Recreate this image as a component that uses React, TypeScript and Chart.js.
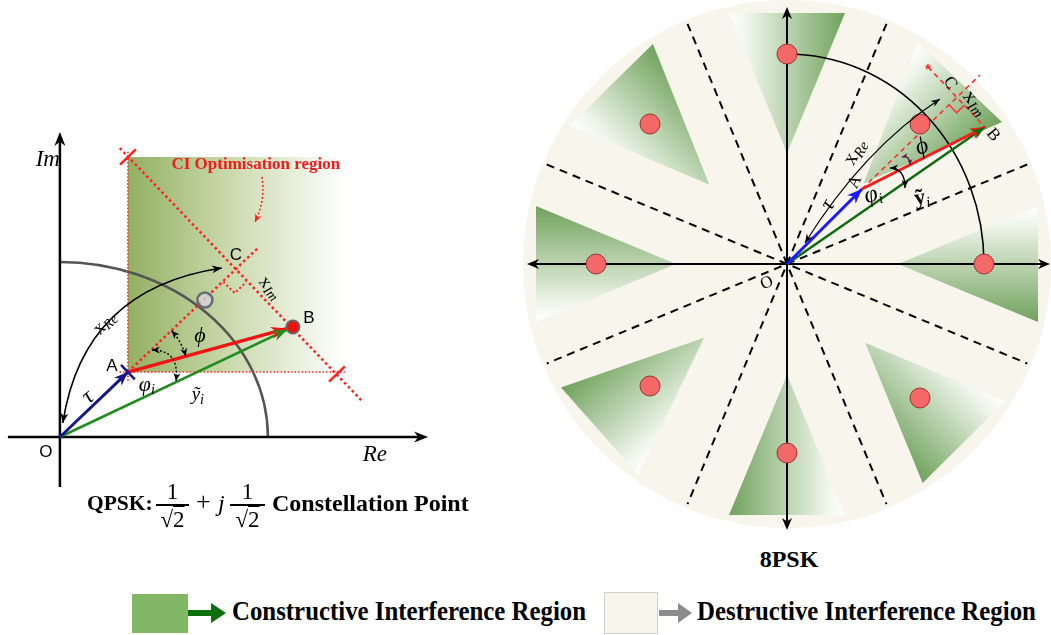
import React, { useEffect, useRef } from "react";
import { Chart, registerables } from "chart.js";

Chart.register(...registerables);

/* ---------------- QPSK panel: positions in the (Re, Im) plane ---------------- */
// vector end points: O, A, B, C
const qpskRe = [0, 0.327, 1.12, 0.841];
const qpskIm = [0, 0.371, 0.629, 0.949];
// nominal symbol 1/√2 + j/√2 sitting on the unit arc
const qpskSymbolRe = [0.697];
const qpskSymbolIm = [0.783];
// CI optimisation region extent
const ciRegionRe = [0.327, 1.37];
const ciRegionIm = [0.371, 1.6];
// dotted boundary through C and B, with its two end ticks
const ciBoundaryRe = [0.288, 1.457];
const ciBoundaryIm = [1.651, 0.2];
const ciTickRe = [0.327, 1.332];
const ciTickIm = [1.6, 0.36];
// far end of the dotted A→C direction
const acEndRe = [0.952];
const acEndIm = [1.08];
// x_Re double arrow (start, control, end)
const xReCurveRe = [0.014, 0.113, 0.779];
const xReCurveIm = [0.08, 0.849, 0.966];
// φ_i angle mark (start, control, end)
const phiICurveRe = [0.442, 0.577, 0.558];
const phiICurveIm = [0.497, 0.497, 0.32];
// pointer from the region caption into the region
const ciPointerRe = [0.971, 0.99, 0.9375];
const ciPointerIm = [1.486, 1.354, 1.229];
// axis extents
const qpskAxisRe = [-0.25, 1.77];
const qpskAxisIm = [-0.286, 1.743];

/* ---------------- 8PSK panel ---------------- */
const psk8Re = [0.985, 0.665, 0, -0.685, -0.955, -0.685, 0, 0.665];
const psk8Im = [0, 0.7, 1.05, 0.7, 0, -0.61, -0.945, -0.67];
// vector end points: O, A, B, C
const psk8VecRe = [0, 0.375, 0.99, 0.85];
const psk8VecIm = [0, 0.375, 0.685, 0.835];
// decision boundaries (degrees), each drawn through the origin
const boundaryDeg = [22.5, 67.5, 112.5, 157.5];
// red dashed construction lines
const aExtEndRe = [0.965];
const aExtEndIm = [0.945];
const perpStartRe = [0.705];
const perpStartIm = [0.985];
// x_Re double arrow (start, control, end)
const xRe8Re = [0.09, 0.3825, 0.765];
const xRe8Im = [0.105, 0.575, 0.825];
// angle marks near A
const phiI8Re = [0.515, 0.59, 0.59];
const phiI8Im = [0.48, 0.48, 0.38];
const phi8Re = [0.575, 0.615, 0.615];
const phi8Im = [0.535, 0.545, 0.495];
const psk8DiscRadius = 1.32;
const psk8BoundaryLen = 1.3;
const psk8AxisRe = [-1.3, 1.315];
const psk8AxisIm = [-1.33, 1.285];
// CI wedge around every symbol: apex distance, base distance, half base width
const wedgeApex = 0.555;
const wedgeBase = 1.255;
const wedgeHalf = 0.29;

const SERIF = '"Liberation Serif", "DejaVu Serif", serif';
const SANS = '"Liberation Sans", "DejaVu Sans", sans-serif';

type Pt = [number, number];
type Run = { t: string; f: string; dy?: number };
type Label = { at: Pt; runs: Run[]; rot?: number; color?: string };

function toPx(chart: any, x: number, y: number): Pt {
  return [chart.scales.x.getPixelForValue(x), chart.scales.y.getPixelForValue(y)];
}

function arrowHead(ctx: CanvasRenderingContext2D, from: Pt, to: Pt, len: number, wid: number, color: string) {
  const a = Math.atan2(to[1] - from[1], to[0] - from[0]);
  ctx.save();
  ctx.translate(to[0], to[1]);
  ctx.rotate(a);
  ctx.beginPath();
  ctx.moveTo(0, 0);
  ctx.lineTo(-len, wid / 2);
  ctx.lineTo(-len * 0.7, 0);
  ctx.lineTo(-len, -wid / 2);
  ctx.closePath();
  ctx.fillStyle = color;
  ctx.fill();
  ctx.restore();
}

function seg(ctx: CanvasRenderingContext2D, a: Pt, b: Pt, color: string, width: number, dash: number[] = [], cap: CanvasLineCap = "butt") {
  ctx.save();
  ctx.beginPath();
  ctx.moveTo(a[0], a[1]);
  ctx.lineTo(b[0], b[1]);
  ctx.strokeStyle = color;
  ctx.lineWidth = width;
  ctx.lineCap = cap;
  ctx.setLineDash(dash);
  ctx.stroke();
  ctx.restore();
}

function quadArrow(
  ctx: CanvasRenderingContext2D,
  p0: Pt, c: Pt, p1: Pt,
  color: string, width: number, dash: number[],
  headStart: boolean, headEnd: boolean, hl: number, hw: number
) {
  ctx.save();
  ctx.beginPath();
  ctx.moveTo(p0[0], p0[1]);
  ctx.quadraticCurveTo(c[0], c[1], p1[0], p1[1]);
  ctx.strokeStyle = color;
  ctx.lineWidth = width;
  ctx.setLineDash(dash);
  ctx.stroke();
  ctx.restore();
  if (headStart) arrowHead(ctx, c, p0, hl, hw, color);
  if (headEnd) arrowHead(ctx, c, p1, hl, hw, color);
}

function drawRuns(ctx: CanvasRenderingContext2D, p: Pt, list: Run[], rot = 0, color = "#000") {
  ctx.save();
  ctx.translate(p[0], p[1]);
  ctx.rotate((rot * Math.PI) / 180);
  ctx.fillStyle = color;
  ctx.textBaseline = "middle";
  ctx.textAlign = "left";
  let w = 0;
  for (const r of list) {
    ctx.font = r.f;
    w += ctx.measureText(r.t).width;
  }
  let x = -w / 2;
  for (const r of list) {
    ctx.font = r.f;
    ctx.fillText(r.t, x, r.dy || 0);
    x += ctx.measureText(r.t).width;
  }
  ctx.restore();
}

function norm(v: Pt): Pt {
  const l = Math.hypot(v[0], v[1]) || 1;
  return [v[0] / l, v[1] / l];
}

function rightAngle(ctx: CanvasRenderingContext2D, c: Pt, toA: Pt, toB: Pt, s: number, color: string, width: number, dash: number[]) {
  const u = norm([toA[0] - c[0], toA[1] - c[1]]);
  const v = norm([toB[0] - c[0], toB[1] - c[1]]);
  ctx.save();
  ctx.beginPath();
  ctx.moveTo(c[0] + u[0] * s, c[1] + u[1] * s);
  ctx.lineTo(c[0] + (u[0] + v[0]) * s, c[1] + (u[1] + v[1]) * s);
  ctx.lineTo(c[0] + v[0] * s, c[1] + v[1] * s);
  ctx.strokeStyle = color;
  ctx.lineWidth = width;
  ctx.setLineDash(dash);
  ctx.stroke();
  ctx.restore();
}

/* ---------------- text annotations ---------------- */
const qpskLabels: Label[] = [
  { at: [-0.058, 1.583], runs: [{ t: "Im", f: `italic 23px ${SERIF}` }] },
  { at: [1.514, -0.103], runs: [{ t: "Re", f: `italic 23px ${SERIF}` }] },
  { at: [-0.067, -0.086], runs: [{ t: "O", f: `17px ${SANS}` }] },
  { at: [0.25, 0.406], runs: [{ t: "A", f: `17px ${SANS}` }] },
  { at: [1.197, 0.68], runs: [{ t: "B", f: `17px ${SANS}` }] },
  { at: [0.846, 1.04], runs: [{ t: "C", f: `17px ${SANS}` }] },
  { at: [0.135, 0.229], runs: [{ t: "τ", f: `italic 23px ${SERIF}` }], rot: -40 },
  { at: [0.216, 0.651], runs: [{ t: "x", f: `19px ${SERIF}` }, { t: "Re", f: `italic 14px ${SERIF}`, dy: 4 }], rot: -45 },
  { at: [0.418, 0.297], runs: [{ t: "φ", f: `italic 22px ${SERIF}` }, { t: "i", f: `italic 14px ${SERIF}`, dy: 5 }] },
  { at: [0.663, 0.24], runs: [{ t: "ỹ", f: `italic 19px ${SERIF}` }, { t: "i", f: `italic 14px ${SERIF}`, dy: 5 }] },
  { at: [0.673, 0.577], runs: [{ t: "ϕ", f: `italic 22px ${SERIF}` }] },
  { at: [1.01, 0.851], runs: [{ t: "x", f: `19px ${SERIF}` }, { t: "Im", f: `italic 14px ${SERIF}`, dy: 4 }], rot: 50 },
  { at: [0.942, 1.554], runs: [{ t: "CI Optimisation region", f: `bold 17px ${SERIF}` }], color: "#ee1c1c" },
];

const psk8Labels: Label[] = [
  { at: [-0.1, -0.095], runs: [{ t: "O", f: `17px ${SERIF}` }], rot: -25 },
  { at: [0.34, 0.41], runs: [{ t: "A", f: `17px ${SERIF}` }], rot: -65 },
  { at: [1.03, 0.645], runs: [{ t: "B", f: `17px ${SERIF}` }], rot: 50 },
  { at: [0.815, 0.905], runs: [{ t: "C", f: `17px ${SERIF}` }], rot: 60 },
  { at: [0.94, 0.805], runs: [{ t: "x", f: `21px ${SERIF}` }, { t: "Im", f: `italic 15px ${SERIF}`, dy: 5 }], rot: 50 },
  { at: [0.34, 0.56], runs: [{ t: "x", f: `21px ${SERIF}` }, { t: "Re", f: `italic 15px ${SERIF}`, dy: 5 }], rot: -60 },
  { at: [0.205, 0.295], runs: [{ t: "τ", f: `italic 22px ${SERIF}` }], rot: -60 },
  { at: [0.43, 0.345], runs: [{ t: "φ", f: `italic 24px ${SERIF}` }, { t: "i", f: `italic 15px ${SERIF}`, dy: 6 }], rot: -15 },
  { at: [0.675, 0.33], runs: [{ t: "ỹ", f: `bold 22px ${SERIF}` }, { t: "i", f: `italic 15px ${SERIF}`, dy: 6 }], rot: -10 },
  { at: [0.675, 0.585], runs: [{ t: "ϕ", f: `italic 24px ${SERIF}` }], rot: -20 },
];

/* ---------------- QPSK drawing ---------------- */
const qpskDecor = {
  id: "qpskDecor",
  beforeDatasetsDraw(chart: any) {
    const ctx: CanvasRenderingContext2D = chart.ctx;
    const P = (x: number, y: number) => toPx(chart, x, y);
    // region shading
    const [x0, y0] = P(ciRegionRe[0], ciRegionIm[1]);
    const [x1, y1] = P(ciRegionRe[1], ciRegionIm[0]);
    const g = ctx.createLinearGradient(x0, 0, x1, 0);
    g.addColorStop(0, "rgb(146,176,98)");
    g.addColorStop(0.45, "rgb(200,216,170)");
    g.addColorStop(1, "rgb(255,255,255)");
    ctx.fillStyle = g;
    ctx.fillRect(x0, y0, x1 - x0, y1 - y0);

    // unit arc
    const o = P(0, 0);
    const rx = P(1, 0)[0] - o[0];
    const ry = o[1] - P(0, 1)[1];
    ctx.save();
    ctx.beginPath();
    ctx.ellipse(o[0], o[1], rx, ry, 0, -Math.PI / 2, 0);
    ctx.strokeStyle = "#555";
    ctx.lineWidth = 2.5;
    ctx.stroke();
    ctx.restore();

    // axes
    const reA = P(qpskAxisRe[0], 0), reB = P(qpskAxisRe[1], 0);
    const imA = P(0, qpskAxisIm[0]), imB = P(0, qpskAxisIm[1]);
    seg(ctx, reA, [reB[0] - 6, reB[1]], "#000", 2.5);
    arrowHead(ctx, reA, reB, 14, 11, "#000");
    seg(ctx, imA, [imB[0], imB[1] + 6], "#000", 2.5);
    arrowHead(ctx, imA, imB, 14, 11, "#000");

    // dotted construction lines
    const red = "#ff2020";
    const dots = [2.5, 3];
    const A = P(qpskRe[1], qpskIm[1]);
    seg(ctx, P(ciRegionRe[0], ciRegionIm[0] - 0.05), P(ciRegionRe[0], ciRegionIm[1] + 0.04), red, 1.6, [1.5, 2]);
    seg(ctx, P(ciRegionRe[0] - 0.04, ciRegionIm[0]), P(ciRegionRe[1], ciRegionIm[0]), red, 1.6, [1.5, 2]);
    const b0 = P(ciBoundaryRe[0], ciBoundaryIm[0]);
    const b1 = P(ciBoundaryRe[1], ciBoundaryIm[1]);
    seg(ctx, b0, b1, red, 2.5, dots);
    seg(ctx, A, P(acEndRe[0], acEndIm[0]), red, 2.5, dots);
    // ticks at both ends of the boundary
    const d = norm([b1[0] - b0[0], b1[1] - b0[1]]);
    const n: Pt = [d[1], -d[0]];
    for (let i = 0; i < ciTickRe.length; i++) {
      const t = P(ciTickRe[i], ciTickIm[i]);
      seg(ctx, [t[0] - n[0] * 11, t[1] - n[1] * 11], [t[0] + n[0] * 11, t[1] + n[1] * 11], red, 2.5);
    }
    // right angle at C
    const C = P(qpskRe[3], qpskIm[3]);
    const B = P(qpskRe[2], qpskIm[2]);
    rightAngle(ctx, C, A, B, 16, red, 2, [2, 2.5]);
  },
  afterDatasetsDraw(chart: any) {
    const ctx: CanvasRenderingContext2D = chart.ctx;
    const P = (x: number, y: number) => toPx(chart, x, y);
    const meta = (i: number) => chart.getDatasetMeta(i).data;
    // arrowheads on the vectors (datasets 2: A→B, 3: O→A, 4: O→B)
    const ab = meta(2), oa = meta(3), ob = meta(4);
    const headTo = (el: any[], back: number, color: string, len: number, wid: number) => {
      const a: Pt = [el[0].x, el[0].y];
      const b: Pt = [el[1].x, el[1].y];
      const u = norm([b[0] - a[0], b[1] - a[1]]);
      arrowHead(ctx, a, [b[0] - u[0] * back, b[1] - u[1] * back], len, wid, color);
    };
    headTo(oa, 0, "#16168c", 14, 11);
    headTo(ab, 6, "#f01414", 16, 12);
    headTo(ob, 6, "#1e8c1e", 15, 11);
    // blue tick at A
    const a0: Pt = [oa[0].x, oa[0].y], a1: Pt = [oa[1].x, oa[1].y];
    const u = norm([a1[0] - a0[0], a1[1] - a0[1]]);
    const pn: Pt = [-u[1], u[0]];
    seg(ctx, [a1[0] - pn[0] * 10, a1[1] - pn[1] * 10], [a1[0] + pn[0] * 10, a1[1] + pn[1] * 10], "#16168c", 2.5);

    // x_Re double arrow
    quadArrow(ctx, P(xReCurveRe[0], xReCurveIm[0]), P(xReCurveRe[1], xReCurveIm[1]), P(xReCurveRe[2], xReCurveIm[2]), "#000", 1.6, [], true, true, 10, 8);
    // φ_i mark
    quadArrow(ctx, P(phiICurveRe[0], phiICurveIm[0]), P(phiICurveRe[1], phiICurveIm[1]), P(phiICurveRe[2], phiICurveIm[2]), "#000", 1.4, [2, 2], true, true, 8, 7);
    // ϕ mark: arc around A between A→C and A→B
    const A = P(qpskRe[1], qpskIm[1]);
    const B = P(qpskRe[2], qpskIm[2]);
    const C = P(qpskRe[3], qpskIm[3]);
    const angC = Math.atan2(C[1] - A[1], C[0] - A[0]);
    const angB = Math.atan2(B[1] - A[1], B[0] - A[0]);
    const r = 60;
    ctx.save();
    ctx.beginPath();
    ctx.arc(A[0], A[1], r, angC, angB);
    ctx.strokeStyle = "#000";
    ctx.lineWidth = 1.4;
    ctx.setLineDash([2, 2]);
    ctx.stroke();
    ctx.restore();
    const endB: Pt = [A[0] + r * Math.cos(angB), A[1] + r * Math.sin(angB)];
    const endC: Pt = [A[0] + r * Math.cos(angC), A[1] + r * Math.sin(angC)];
    arrowHead(ctx, [endB[0] + 8 * Math.sin(angB), endB[1] - 8 * Math.cos(angB)], endB, 8, 7, "#000");
    arrowHead(ctx, [endC[0] - 8 * Math.sin(angC), endC[1] + 8 * Math.cos(angC)], endC, 8, 7, "#000");

    // region caption pointer
    quadArrow(ctx, P(ciPointerRe[0], ciPointerIm[0]), P(ciPointerRe[1], ciPointerIm[1]), P(ciPointerRe[2], ciPointerIm[2]), "#ff2020", 1.5, [2, 2], false, true, 8, 7);

    for (const l of qpskLabels) drawRuns(ctx, P(l.at[0], l.at[1]), l.runs, l.rot || 0, l.color || "#000");
  },
};

/* ---------------- 8PSK drawing ---------------- */
const psk8Decor = {
  id: "psk8Decor",
  beforeDatasetsDraw(chart: any) {
    const ctx: CanvasRenderingContext2D = chart.ctx;
    const P = (x: number, y: number) => toPx(chart, x, y);
    const o = P(0, 0);
    const unit = P(1, 0)[0] - o[0];

    // destructive background disc
    ctx.save();
    ctx.beginPath();
    ctx.arc(o[0], o[1], psk8DiscRadius * unit, 0, Math.PI * 2);
    ctx.fillStyle = "#f7f5ec";
    ctx.fill();
    ctx.restore();

    // constructive wedges, one per symbol
    for (let i = 0; i < psk8Re.length; i++) {
      const ang = Math.atan2(psk8Im[i], psk8Re[i]);
      const dir: Pt = [Math.cos(ang), Math.sin(ang)];
      const perp: Pt = [-Math.sin(ang), Math.cos(ang)];
      const apex = P(dir[0] * wedgeApex, dir[1] * wedgeApex);
      const ccw = P(dir[0] * wedgeBase + perp[0] * wedgeHalf, dir[1] * wedgeBase + perp[1] * wedgeHalf);
      const cw = P(dir[0] * wedgeBase - perp[0] * wedgeHalf, dir[1] * wedgeBase - perp[1] * wedgeHalf);
      const g = ctx.createLinearGradient(ccw[0], ccw[1], cw[0], cw[1]);
      g.addColorStop(0, "rgba(255,255,255,1)");
      g.addColorStop(0.15, "rgb(240,246,236)");
      g.addColorStop(1, "rgb(112,162,92)");
      ctx.beginPath();
      ctx.moveTo(apex[0], apex[1]);
      ctx.lineTo(ccw[0], ccw[1]);
      ctx.lineTo(cw[0], cw[1]);
      ctx.closePath();
      ctx.fillStyle = g;
      ctx.fill();
    }

    // decision boundaries
    for (const deg of boundaryDeg) {
      const a = (deg * Math.PI) / 180;
      const p = P(Math.cos(a) * psk8BoundaryLen, Math.sin(a) * psk8BoundaryLen);
      const q = P(-Math.cos(a) * psk8BoundaryLen, -Math.sin(a) * psk8BoundaryLen);
      seg(ctx, p, q, "#000", 2, [8, 6]);
    }

    // axes with arrows at both ends
    const l = P(psk8AxisRe[0], 0), rr = P(psk8AxisRe[1], 0);
    const b = P(0, psk8AxisIm[0]), t = P(0, psk8AxisIm[1]);
    seg(ctx, [l[0] + 5, l[1]], [rr[0] - 5, rr[1]], "#000", 2);
    seg(ctx, [b[0], b[1] - 5], [t[0], t[1] + 5], "#000", 2);
    arrowHead(ctx, o, l, 12, 10, "#000");
    arrowHead(ctx, o, rr, 12, 10, "#000");
    arrowHead(ctx, o, b, 12, 10, "#000");
    arrowHead(ctx, o, t, 12, 10, "#000");

    // quarter arc joining the symbols on the axes
    const rx = P(psk8Re[0], 0)[0] - o[0];
    const ry = o[1] - P(0, psk8Im[2])[1];
    ctx.save();
    ctx.beginPath();
    ctx.ellipse(o[0], o[1], rx, ry, 0, -Math.PI / 2, 0);
    ctx.strokeStyle = "#000";
    ctx.lineWidth = 1.6;
    ctx.stroke();
    ctx.restore();

    // red dashed construction
    const red = "#ff2a2a";
    const A = P(psk8VecRe[1], psk8VecIm[1]);
    const B = P(psk8VecRe[2], psk8VecIm[2]);
    const C = P(psk8VecRe[3], psk8VecIm[3]);
    const s = P(perpStartRe[0], perpStartIm[0]);
    seg(ctx, A, P(aExtEndRe[0], aExtEndIm[0]), red, 1.6, [5, 4]);
    seg(ctx, s, B, red, 1.6, [5, 4]);
    rightAngle(ctx, C, A, B, 11, red, 1.4, []);
    ctx.save();
    ctx.fillStyle = red;
    ctx.font = `bold 15px ${SANS}`;
    ctx.textAlign = "center";
    ctx.textBaseline = "middle";
    ctx.fillText("*", s[0], s[1] + 3);
    ctx.restore();
  },
  afterDatasetsDraw(chart: any) {
    const ctx: CanvasRenderingContext2D = chart.ctx;
    const P = (x: number, y: number) => toPx(chart, x, y);
    const meta = (i: number) => chart.getDatasetMeta(i).data;
    const head = (el: any[], color: string, len: number, wid: number) =>
      arrowHead(ctx, [el[0].x, el[0].y], [el[1].x, el[1].y], len, wid, color);
    head(meta(1), "#ff1a1a", 15, 12);
    head(meta(2), "#1a1aff", 15, 12);
    head(meta(3), "#0d6b0d", 14, 10);

    quadArrow(ctx, P(xRe8Re[0], xRe8Im[0]), P(xRe8Re[1], xRe8Im[1]), P(xRe8Re[2], xRe8Im[2]), "#000", 1.1, [], true, true, 9, 7);
    quadArrow(ctx, P(phiI8Re[0], phiI8Im[0]), P(phiI8Re[1], phiI8Im[1]), P(phiI8Re[2], phiI8Im[2]), "#000", 1.4, [], true, true, 8, 7);
    quadArrow(ctx, P(phi8Re[0], phi8Im[0]), P(phi8Re[1], phi8Im[1]), P(phi8Re[2], phi8Im[2]), "#5a1f4c", 1.4, [], true, true, 6, 5);

    for (const l of psk8Labels) drawRuns(ctx, P(l.at[0], l.at[1]), l.runs, l.rot || 0, l.color || "#000");
  },
};

const seg2 = (re: number[], im: number[], i: number, j: number) => [
  { x: re[i], y: im[i] },
  { x: re[j], y: im[j] },
];

function baseOptions(xr: [number, number], yr: [number, number]): any {
  return {
    animation: false,
    responsive: false,
    events: [],
    layout: { padding: 0, autoPadding: false },
    plugins: { legend: { display: false }, tooltip: { enabled: false } },
    scales: {
      x: { type: "linear", min: xr[0], max: xr[1], display: false },
      y: { type: "linear", min: yr[0], max: yr[1], display: false },
    },
  };
}

function Frac({ width }: { width: number }) {
  return (
    <div style={{ width, display: "flex", flexDirection: "column", alignItems: "center", fontWeight: "normal" }}>
      <div style={{ fontSize: 23, lineHeight: "21px" }}>1</div>
      <div style={{ height: 1.5, background: "#000", alignSelf: "stretch", margin: "2px 0" }} />
      <div style={{ fontSize: 23, lineHeight: "23px", whiteSpace: "nowrap" }}>
        √<span style={{ textDecoration: "overline" }}>2</span>
      </div>
    </div>
  );
}

export default function App() {
  const leftRef = useRef<HTMLCanvasElement>(null);
  const rightRef = useRef<HTMLCanvasElement>(null);

  useEffect(() => {
    const left = new Chart(leftRef.current as HTMLCanvasElement, {
      type: "scatter",
      data: {
        datasets: [
          {
            data: [{ x: qpskRe[2], y: qpskIm[2] }],
            pointRadius: 6.5,
            backgroundColor: "#f01010",
            borderColor: "#666",
            borderWidth: 2,
            order: 0,
            clip: false,
          },
          {
            data: [{ x: qpskSymbolRe[0], y: qpskSymbolIm[0] }],
            pointRadius: 7.5,
            backgroundColor: "rgba(214,214,224,0.75)",
            borderColor: "#6a6a72",
            borderWidth: 2.5,
            order: 1,
            clip: false,
          },
          { data: seg2(qpskRe, qpskIm, 1, 2), showLine: true, borderColor: "#f01414", borderWidth: 3.5, pointRadius: 0, order: 2, clip: false },
          { data: seg2(qpskRe, qpskIm, 0, 1), showLine: true, borderColor: "#16168c", borderWidth: 3, pointRadius: 0, order: 3, clip: false },
          { data: seg2(qpskRe, qpskIm, 0, 2), showLine: true, borderColor: "#1e8c1e", borderWidth: 2.5, pointRadius: 0, order: 4, clip: false },
        ],
      },
      options: baseOptions([-0.288, 2.212], [-0.36, 2.497]),
      plugins: [qpskDecor],
    } as any);

    const right = new Chart(rightRef.current as HTMLCanvasElement, {
      type: "scatter",
      data: {
        datasets: [
          {
            data: psk8Re.map((x, i) => ({ x, y: psk8Im[i] })),
            pointRadius: 10,
            backgroundColor: "#f46868",
            borderColor: "#9a3434",
            borderWidth: 1,
            order: 0,
            clip: false,
          },
          { data: seg2(psk8VecRe, psk8VecIm, 1, 2), showLine: true, borderColor: "#ff1a1a", borderWidth: 3, pointRadius: 0, order: 1, clip: false },
          { data: seg2(psk8VecRe, psk8VecIm, 0, 1), showLine: true, borderColor: "#1a1aff", borderWidth: 3, pointRadius: 0, order: 2, clip: false },
          { data: seg2(psk8VecRe, psk8VecIm, 0, 2), showLine: true, borderColor: "#0d6b0d", borderWidth: 2.5, pointRadius: 0, order: 3, clip: false },
        ],
      },
      options: baseOptions([-1.335, 1.32], [-1.405, 1.32]),
      plugins: [psk8Decor],
    } as any);

    return () => {
      left.destroy();
      right.destroy();
    };
  }, []);

  const serif = '"Liberation Serif", "DejaVu Serif", serif';
  const abs = (l: number, t: number, extra: React.CSSProperties = {}): React.CSSProperties => ({
    position: "absolute",
    left: l,
    top: t,
    ...extra,
  });
  const legendText: React.CSSProperties = {
    fontSize: 27,
    lineHeight: "27px",
    fontWeight: "bold",
    whiteSpace: "nowrap",
    transform: "scaleX(0.92)",
    transformOrigin: "left center",
  };
  const capText: React.CSSProperties = { fontSize: 24, lineHeight: "24px", whiteSpace: "nowrap" };

  return (
    <div
      style={{
        position: "fixed",
        left: 0,
        top: 0,
        width: 1051,
        height: 635,
        background: "#fff",
        overflow: "hidden",
        fontFamily: serif,
        color: "#000",
      }}
    >
      <canvas ref={leftRef} width={520} height={500} style={abs(0, 0)} />
      <canvas ref={rightRef} width={531} height={545} style={abs(520, 0)} />

      {/* QPSK caption */}
      <div style={abs(87, 491, { ...capText, fontSize: 21.5, fontWeight: "bold" })}>QPSK:</div>
      <div style={abs(156, 481)}>
        <Frac width={33} />
      </div>
      <div style={abs(196, 490, { ...capText, fontSize: 26 })}>+</div>
      <div style={abs(218, 491, { ...capText, fontStyle: "italic" })}>j</div>
      <div style={abs(230, 481)}>
        <Frac width={35} />
      </div>
      <div style={abs(272, 491, { ...capText, fontWeight: "bold" })}>Constellation Point</div>

      {/* 8PSK caption */}
      <div style={abs(700, 547, { width: 178, textAlign: "center", fontSize: 24, lineHeight: "24px", fontWeight: "bold" })}>
        8PSK
      </div>

      {/* legend */}
      <div style={abs(132, 594, { width: 56, height: 39, background: "#82b765" })} />
      <div style={abs(188, 610, { width: 26, height: 6, background: "#0b6f0b" })} />
      <div
        style={abs(211, 603, {
          width: 0,
          height: 0,
          borderLeft: "15px solid #0b6f0b",
          borderTop: "10px solid transparent",
          borderBottom: "10px solid transparent",
        })}
      />
      <div style={abs(232, 598, legendText)}>Constructive Interference Region</div>

      <div style={abs(604, 592, { width: 52, height: 40, background: "#f7f5ec", border: "1px solid #cfcfcf" })} />
      <div style={abs(659, 610, { width: 22, height: 6, background: "#8c8c8c" })} />
      <div
        style={abs(678, 603, {
          width: 0,
          height: 0,
          borderLeft: "14px solid #8c8c8c",
          borderTop: "10px solid transparent",
          borderBottom: "10px solid transparent",
        })}
      />
      <div style={abs(697, 598, legendText)}>Destructive Interference Region</div>
    </div>
  );
}
